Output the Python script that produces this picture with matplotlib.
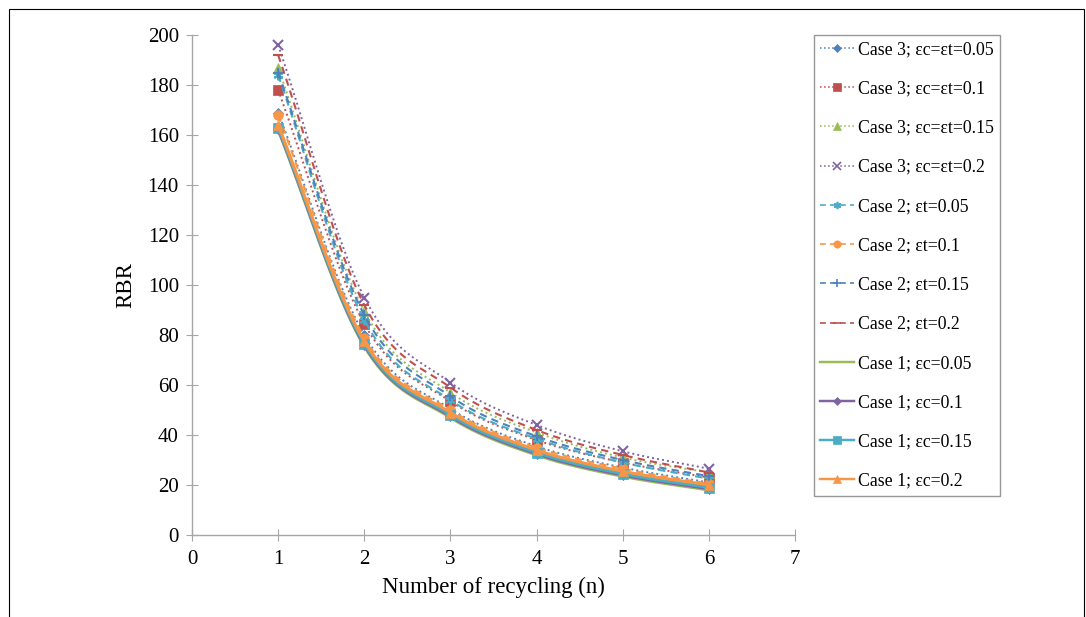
import numpy as np
import matplotlib
matplotlib.use("Agg")
import matplotlib.pyplot as plt
from matplotlib.lines import Line2D

n = [1, 2, 3, 4, 5, 6]

labels = [
    "Case 3; εc=εt=0.05", "Case 3; εc=εt=0.1", "Case 3; εc=εt=0.15", "Case 3; εc=εt=0.2",
    "Case 2; εt=0.05", "Case 2; εt=0.1", "Case 2; εt=0.15", "Case 2; εt=0.2",
    "Case 1; εc=0.05", "Case 1; εc=0.1", "Case 1; εc=0.15", "Case 1; εc=0.2",
]

case3_005 = [169, 80, 50.5, 35.5, 27, 21]
case3_010 = [178, 84.5, 53.5, 38, 29, 23]
case3_015 = [187, 89.5, 57, 41, 31, 25]
case3_020 = [196, 95, 61, 44, 33.5, 26.5]
case2_005 = [184, 86, 54, 38.5, 29, 22.5]
case2_010 = [168, 79, 50, 35, 26.5, 20.5]
case2_015 = [185, 88, 55.5, 39.5, 30, 23.5]
case2_020 = [192, 92, 59, 42, 32, 25]
case1_005 = [162, 75.5, 47, 32, 23.5, 18]
case1_010 = [162.5, 76, 47.5, 32.5, 24, 18.5]
case1_015 = [163, 76.5, 48, 33, 24.5, 19]
case1_020 = [164, 77.5, 49, 34, 25.5, 20]

series = [case3_005, case3_010, case3_015, case3_020,
          case2_005, case2_010, case2_015, case2_020,
          case1_005, case1_010, case1_015, case1_020]

colors = ["#4F81BD", "#C0504D", "#9BBB59", "#8064A2",
          "#4BACC6", "#F79646", "#4F81BD", "#C0504D",
          "#9BBB59", "#8064A2", "#4BACC6", "#F79646"]
markers = ["D", "s", "^", "x", (6, 2, 0), "o", "+", "_",
           None, "D", "s", "^"]
msizes = [5, 7, 7, 7, 7, 7, 7, 7, 0, 5, 7, 7]
dot = (0, (1, 1.6))
dash = (0, (3.5, 2.5))
styles = [dot] * 4 + [dash] * 4 + ["-"] * 4
widths = [1.4] * 4 + [1.5] * 4 + [2.2] * 4

plt.rcParams['font.family'] = ['Liberation Serif', 'DejaVu Serif']

def smooth(x, y, k=20):
    x = np.asarray(x, float); y = np.asarray(y, float)
    px = np.concatenate([[2 * x[0] - x[1]], x, [2 * x[-1] - x[-2]]])
    py = np.concatenate([[2 * y[0] - y[1]], y, [2 * y[-1] - y[-2]]])
    xs, ys = [], []
    t = np.linspace(0, 1, k, endpoint=False)
    for i in range(1, len(px) - 2):
        for arr, out in ((px, xs), (py, ys)):
            p0, p1, p2, p3 = arr[i - 1], arr[i], arr[i + 1], arr[i + 2]
            out.extend(0.5 * ((2 * p1) + (-p0 + p2) * t +
                              (2 * p0 - 5 * p1 + 4 * p2 - p3) * t ** 2 +
                              (-p0 + 3 * p1 - 3 * p2 + p3) * t ** 3))
    xs.append(x[-1]); ys.append(y[-1])
    return np.array(xs), np.array(ys)

fig = plt.figure(figsize=(10.86, 6.17), dpi=100)
ax = fig.add_axes([192 / 1086, 1 - 535 / 617, (795 - 192) / 1086, (535 - 35) / 617])

handles = []
for y, c, m, ms, ls, lw, lab in zip(series, colors, markers, msizes, styles, widths, labels):
    sx, sy = smooth(n, y)
    ax.plot(sx, sy, color=c, linestyle=ls, linewidth=lw)
    if m is not None:
        ax.plot(n, y, linestyle="none", marker=m, color=c, markersize=ms,
                markeredgewidth=1.5 if m in ("x", "+", "_", (6, 2, 0)) else 0.5)
    handles.append(Line2D([], [], color=c, linestyle=ls, linewidth=lw * 0.8,
                          marker=m, markersize=ms * 0.75,
                          markeredgewidth=1.2 if m in ("x", "+", "_", (6, 2, 0)) else 0.5))

ax.set_xlim(0, 7)
ax.set_ylim(0, 200)
ax.set_xticks(range(0, 8))
ax.set_yticks(range(0, 201, 20))
for s in ("top", "right"):
    ax.spines[s].set_visible(False)
for s in ("left", "bottom"):
    ax.spines[s].set_color("#A6A6A6")
    ax.spines[s].set_linewidth(1.0)
ax.tick_params(axis="both", direction="inout", length=9, color="#A6A6A6",
               labelsize=15, labelcolor="black")
ax.tick_params(axis="x", pad=6)
ax.tick_params(axis="y", pad=5)
ax.set_xlabel("Number of recycling (n)", fontsize=16.5, labelpad=6)
ax.set_ylabel("RBR", fontsize=16.5, labelpad=8)

leg = fig.legend(handles, labels, loc="upper left",
                 bbox_to_anchor=(814 / 1086, 1 - 35 / 617),
                 frameon=True, fancybox=False, fontsize=12.8,
                 labelspacing=1.25, handlelength=1.9, handletextpad=0.2,
                 borderpad=0.35, borderaxespad=0)
leg.get_frame().set_edgecolor("#7F7F7F")
leg.get_frame().set_linewidth(1.0)

fig.patches.append(plt.Rectangle((9 / 1086, -0.01), (1084 - 9) / 1086, 1 - 9 / 617 + 0.01,
                                 transform=fig.transFigure, fill=False,
                                 edgecolor="#000000", linewidth=0.8))

fig.savefig("out.png", dpi=100)
